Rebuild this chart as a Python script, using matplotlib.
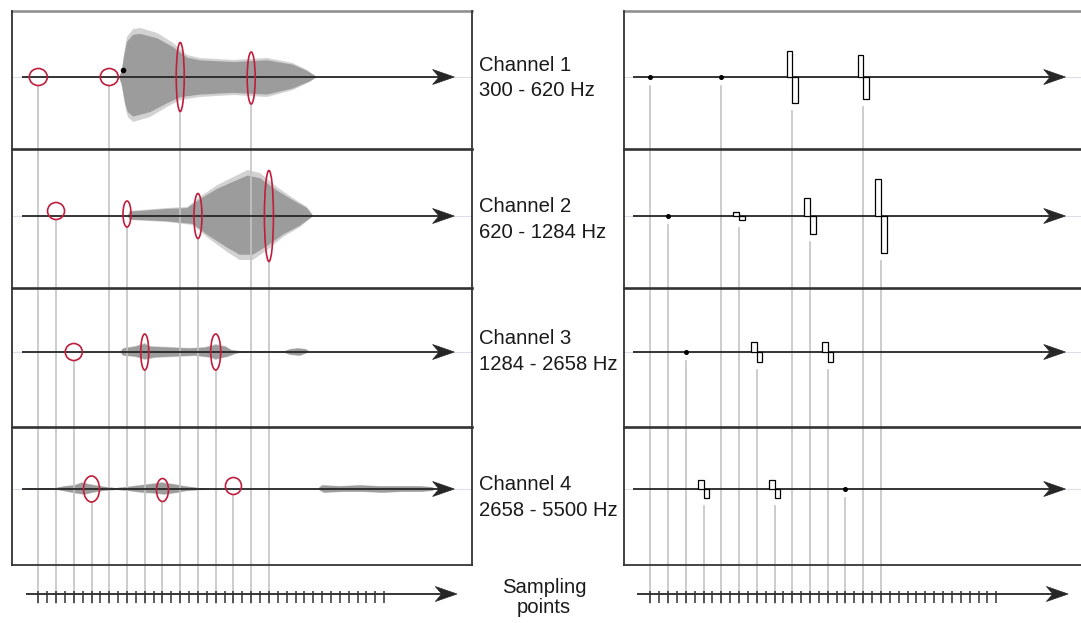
import numpy as np
import matplotlib.pyplot as plt
from matplotlib.patches import Ellipse, Rectangle, Polygon

W, H = 1081, 623
X0, DX = 38.3, 8.87      # pixel of sampling point 0, pixels per sampling step
SHIFT = 69               # right hand panel offset, in sampling steps

def u(px):
    return (px - X0) / DX

# ---- data -------------------------------------------------------------
channels = ["Channel 1", "Channel 2", "Channel 3", "Channel 4"]
bands = ["300 - 620 Hz", "620 - 1284 Hz", "1284 - 2658 Hz", "2658 - 5500 Hz"]
n_ticks = 40

# sampling point index picked in each channel
samples = [[0, 8, 16, 24], [2, 10, 18, 26], [4, 12, 20], [6, 14, 22]]
# red marks on the waveform (width / height in px, vertical shift)
mark_w = [[18, 18, 8, 8], [17, 8, 8, 9], [17, 8, 10], [16, 12, 16]]
mark_h = [[17, 17, 69, 52], [17, 26, 45, 91], [17, 36, 36], [26, 23, 17]]
mark_dy = [[0, 0, 0, 1], [-5, -2, 0, 0], [0, 0, 0], [0, 1, -3]]
# pulse amplitude on the right (0 = no pulse, only a dot)
pulse_amp = [[0, 0, 26, 22], [0, 4, 18, 37], [0, 10, 10], [9, 9, 0]]

# band-passed signal envelopes (x in sampling steps, amplitude in px)
env1_t_up = [9.1, 9.4, 9.7, 10.0, 10.7, 11.5, 13.4, 15.2, 16.8, 18.2, 22.0, 25.8, 28.7, 30.3, 31.4]
env1_up = [0, 6, 25, 40, 48, 49, 44, 34, 22, 19, 17, 19, 14, 7, 0]
env1_t_lo = [9.1, 9.4, 9.8, 10.1, 10.7, 12.6, 14.5, 16.0, 18.2, 22.0, 25.8, 28.7, 30.6, 31.4]
env1_lo = [0, 8, 30, 40, 45, 40, 30, 23, 20, 18, 20, 13, 5, 0]

env2_t_up = [10.1, 10.3, 14.5, 16.8, 18.2, 20.2, 22.0, 23.6, 25.0, 26.9, 28.7, 30.3, 31.0]
env2_up = [0, 5, 8, 9, 19, 31, 39, 46, 43, 29, 18, 9, 0]
env2_t_lo = [10.1, 10.3, 14.5, 17.4, 19.0, 21.3, 22.7, 24.2, 25.8, 27.6, 29.5, 31.0]
env2_lo = [0, 4, 6, 9, 21, 36, 44, 44, 34, 21, 11, 0]

env3_t_up = [9.2, 9.6, 10.9, 12.0, 12.6, 14.9, 17.1, 18.8, 20.0, 21.1, 21.8, 22.7, 27.8, 28.4, 29.3, 30.2, 30.6]
env3_up = [0, 4, 6, 9, 6, 5, 4, 5, 8, 6, 2, 1, 1, 3, 4, 3, 0]
env3_t_lo = [9.2, 9.6, 10.9, 12.0, 13.2, 15.4, 17.7, 19.4, 20.0, 21.4, 22.2, 22.7, 27.8, 28.4, 29.5, 30.6]
env3_lo = [0, 4, 5, 8, 6, 5, 4, 6, 8, 5, 2, 1, 1, 3, 4, 0]

env4_t_up = [-1.7, -0.9, 1.9, 3.0, 4.1, 4.9, 5.8, 7.0, 8.7, 9.8, 11.5, 13.2, 13.9, 15.4, 16.5, 18.2, 19.4,
             31.5, 32.0, 34.0, 36.3, 38.5, 40.8, 43.0, 44.4, 44.8]
env4_up = [0, 1, 1, 3, 4, 7, 5, 3, 1, 2, 4, 6, 7, 5, 3, 1, 0, 0, 4, 3, 4, 3, 3, 3, 2, 0]
env4_t_lo = [-1.7, -0.9, 2.2, 3.3, 4.4, 5.2, 6.1, 7.3, 8.9, 10.1, 11.8, 13.4, 14.2, 15.7, 16.8, 18.5, 19.4,
             31.5, 32.2, 34.3, 36.6, 38.8, 41.0, 43.2, 44.4, 44.8]
env4_lo = [0, 1, 1, 3, 5, 6, 4, 2, 1, 2, 4, 5, 6, 4, 2, 1, 0, 0, 4, 3, 3, 4, 3, 3, 2, 0]

env_t_up = [env1_t_up, env2_t_up, env3_t_up, env4_t_up]
env_up = [env1_up, env2_up, env3_up, env4_up]
env_t_lo = [env1_t_lo, env2_t_lo, env3_t_lo, env4_t_lo]
env_lo = [env1_lo, env2_lo, env3_lo, env4_lo]

# ---- layout -----------------------------------------------------------
row_y = [77, 216, 352, 489]
row_lines = [10.5, 148.5, 287.5, 426.5, 564.5]
text_base = [71, 212, 344, 490]
axis_y = 594
left_axis = (-1.8, 46.9)
right_axis = (67.1, 115.8)
fs = 14.6

plt.rcParams["font.family"] = ["Liberation Sans", "DejaVu Sans"]
fig = plt.figure(figsize=(W / 100, H / 100), dpi=100)
ax = fig.add_axes([0, 0, 1, 1])
ax.set_xlim(u(0), u(W))
ax.set_ylim(H, 0)
ax.axis("off")

line_grey = "#c4c4c4"
red = "#bf1e3c"
ink = "#262626"

def arrow(x_start, x_tip, y, lw=1.3):
    L = 21.7 / DX
    ax.plot([x_start, x_tip - 0.5 * L], [y, y], color=ink, lw=lw, zorder=5, solid_capstyle="butt")
    head = Polygon([[x_tip, y], [x_tip - L, y - 7.5], [x_tip - 0.7 * L, y], [x_tip - L, y + 7.5]],
                   closed=True, facecolor=ink, edgecolor=ink, lw=0.5, zorder=5)
    ax.add_patch(head)

# boxes
for x_l, x_r in [(u(11.5), u(471.5)), (u(623.5), u(1090))]:
    ax.plot([x_l, x_r], [row_lines[0], row_lines[0]], color="#8c8c8c", lw=1.8, zorder=7)
    for yy in row_lines[1:4]:
        ax.plot([x_l, x_r], [yy, yy], color="#333333", lw=1.9, zorder=7)
    ax.plot([x_l, x_r], [row_lines[4], row_lines[4]], color="#444444", lw=1.4, zorder=7)
    ax.plot([x_l, x_l], [row_lines[0], row_lines[4]], color="#333333", lw=1.3, zorder=7)
    ax.plot([x_r, x_r], [row_lines[0], row_lines[4]], color="#333333", lw=1.3, zorder=7)

for c in range(4):
    y0 = row_y[c]
    # faint baseline across the boxes
    ax.plot([u(12), u(471)], [y0, y0], color="#dcdfe8", lw=0.8, zorder=0.5)
    ax.plot([u(624), u(1081)], [y0, y0], color="#dcdfe8", lw=0.8, zorder=0.5)

    # waveform of the band
    tu = np.array(env_t_up[c]); au = np.array(env_up[c], dtype=float)
    tl = np.array(env_t_lo[c]); al = np.array(env_lo[c], dtype=float)
    xs = np.concatenate([tu, tl[::-1]])
    ys_out = np.concatenate([y0 - au, (y0 + al)[::-1]])
    ys_in = np.concatenate([y0 - 0.88 * au, (y0 + 0.88 * al)[::-1]])
    ax.fill(xs, ys_out, color="#d2d2d2", lw=0, zorder=1)
    ax.fill(xs, ys_in, color="#9c9c9c", lw=0, zorder=2)

    arrow(left_axis[0], left_axis[1], y0)
    arrow(right_axis[0], right_axis[1], y0)

    for k, s in enumerate(samples[c]):
        # red mark on the left
        cy = y0 + mark_dy[c][k]
        ax.add_patch(Ellipse((s, cy), mark_w[c][k] / DX, mark_h[c][k], fill=False,
                             edgecolor=red, lw=1.2, zorder=6))
        ax.plot([s, s], [cy + mark_h[c][k] / 2, 603], color=line_grey, lw=1.2, zorder=3)

        # pulse on the right
        xr = s + SHIFT
        a = pulse_amp[c][k]
        if a == 0:
            ax.plot([xr], [y0], "o", color="black", ms=2.6, zorder=6)
            y_top = y0 + 9
        else:
            w = 0.64
            ax.add_patch(Rectangle((xr - w, y0 - a), w, a, facecolor="white",
                                   edgecolor="black", lw=0.9, zorder=6))
            ax.add_patch(Rectangle((xr, y0), w, a, facecolor="white",
                                   edgecolor="black", lw=0.9, zorder=6))
            y_top = y0 + a + 8
        ax.plot([xr, xr], [y_top, 603], color=line_grey, lw=1.2, zorder=3)

    ax.text(u(479), text_base[c], channels[c], fontsize=fs, color="#1a1a1a", va="baseline")
    ax.text(u(479), text_base[c] + 25.5, bands[c], fontsize=fs, color="#1a1a1a", va="baseline")

# onset dot of the first band
ax.plot([9.56], [row_y[0] - 7], "o", color="black", ms=3, zorder=6)

# sampling axes with ticks
ticks = np.arange(n_ticks)
for off, (xa, xb) in [(0, left_axis), (SHIFT, right_axis)]:
    arrow(xa + 0.4, xb + 0.3, axis_y)
    ax.vlines(ticks + off, 591, 603, color="#333333", lw=1.1, zorder=5)

ax.text(u(544), 593, "Sampling", fontsize=fs, color="#1a1a1a", ha="center", va="baseline")
ax.text(u(544), 613, "points", fontsize=fs, color="#1a1a1a", ha="center", va="baseline")

fig.savefig("out.png", dpi=100)
